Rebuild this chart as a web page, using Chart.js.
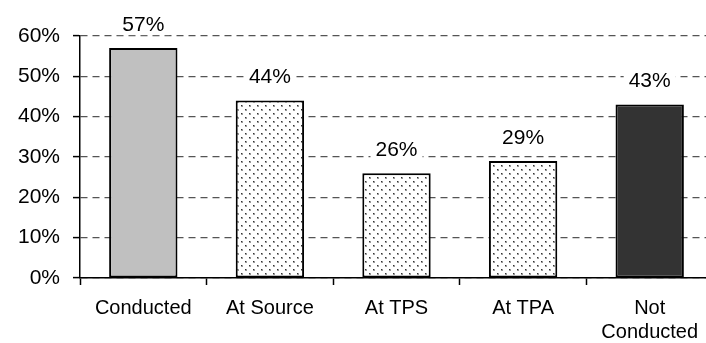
<!DOCTYPE html>
<html>
<head>
<meta charset="utf-8">
<script src="https://cdn.jsdelivr.net/npm/chart.js@4.4.1/dist/chart.umd.min.js"></script>
<style>
  html, body { margin: 0; padding: 0; background: #fff; overflow: hidden; }
  #wrap { width: 706px; height: 343px; overflow: hidden; }
</style>
</head>
<body>
<div id="wrap"><canvas id="bars" width="716" height="343"></canvas></div>
<script>
const categories = ['Conducted', 'At Source', 'At TPS', 'At TPA', ['Not', 'Conducted']];
const shares = [57, 44, 26, 29, 43];
const yMax = 60;
const yStep = 10;

// small dotted tile used for the three "at ..." bars
function dotPattern() {
  const tile = document.createElement('canvas');
  tile.width = 8;
  tile.height = 8;
  const t = tile.getContext('2d');
  t.fillStyle = '#ffffff';
  t.fillRect(0, 0, 8, 8);
  t.fillStyle = '#9a9a9a';
  t.fillRect(1, 1, 2, 2);
  t.fillRect(5, 5, 2, 2);
  t.fillStyle = '#333333';
  t.fillRect(1, 1, 1, 1);
  t.fillRect(5, 5, 1, 1);
  return document.getElementById('bars').getContext('2d').createPattern(tile, 'repeat');
}

const dots = dotPattern();
const fills = ['#c0c0c0', dots, dots, dots, '#333333'];

// value above each bar, on a white box so the grid lines break around it
const valueLabels = {
  id: 'valueLabels',
  afterDatasetsDraw(chart) {
    const ctx = chart.ctx;
    const meta = chart.getDatasetMeta(0);
    ctx.save();
    ctx.font = '21px "Liberation Sans", Arial, sans-serif';
    ctx.textAlign = 'center';
    ctx.textBaseline = 'middle';
    meta.data.forEach((bar, i) => {
      const text = shares[i] + '%';
      const w = ctx.measureText(text).width;
      const y = bar.y - 24;
      ctx.fillStyle = '#ffffff';
      ctx.fillRect(bar.x - w / 2 - 5, y - 11, w + 10, 22);
      ctx.fillStyle = '#000000';
      ctx.fillText(text, bar.x, y + 1);
    });
    ctx.restore();
  }
};

Chart.defaults.font.family = '"Liberation Sans", Arial, sans-serif';
Chart.defaults.color = '#000';

new Chart(document.getElementById('bars'), {
  type: 'bar',
  data: {
    labels: categories,
    datasets: [{
      data: shares,
      backgroundColor: fills,
      borderColor: '#000',
      borderWidth: 2,
      borderSkipped: false,
      barPercentage: 0.54,
      categoryPercentage: 1
    }]
  },
  options: {
    responsive: false,
    devicePixelRatio: 1,
    animation: false,
    layout: { padding: { top: 36, right: 3, left: 0, bottom: 0 } },
    plugins: {
      legend: { display: false },
      tooltip: { enabled: false }
    },
    scales: {
      x: {
        offset: true,
        grid: {
          offset: true,
          drawOnChartArea: false,
          tickLength: 7,
          tickColor: '#000',
          tickWidth: 1.5
        },
        border: { color: '#000', width: 1.5 },
        ticks: { font: { size: 20 }, padding: 11, maxRotation: 0, autoSkip: false },
        afterFit(scale) { scale.height = 65; }
      },
      y: {
        min: 0,
        max: yMax,
        grid: {
          color: '#555',
          lineWidth: 1.2,
          tickLength: 7,
          tickColor: '#000',
          tickWidth: 1.5,
          tickBorderDash: []
        },
        border: { color: '#000', width: 1.5, dash: [7, 5] },
        ticks: {
          stepSize: yStep,
          font: { size: 21 },
          padding: 13,
          callback: v => v + '%'
        },
        afterFit(scale) { scale.width = 80; }
      }
    }
  },
  plugins: [valueLabels]
});
</script>
</body>
</html>
